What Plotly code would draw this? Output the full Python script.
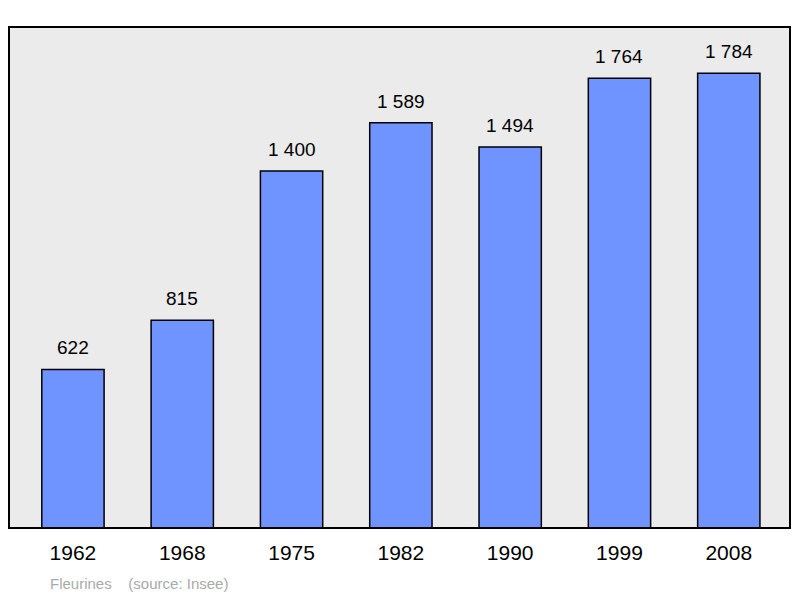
import plotly.graph_objects as go

years = ["1962", "1968", "1975", "1982", "1990", "1999", "2008"]
population = [622, 815, 1400, 1589, 1494, 1764, 1784]
labels = ["622", "815", "1 400", "1 589", "1 494", "1 764", "1 784"]

xs = list(range(len(years)))
fig = go.Figure(go.Bar(
    x=xs, y=population, width=0.57,
    marker=dict(color="#7094ff", line=dict(color="black", width=1.5)),
))
anns = [dict(x=x, y=v, text=t, showarrow=False, yanchor="bottom", yshift=9,
             font=dict(size=19, color="black", family="Liberation Sans"))
        for x, v, t in zip(xs, population, labels)]
anns.append(dict(text="Fleurines    (source: Insee)", xref="paper", yref="paper",
                 x=0.05, y=-0.11, xanchor="left", yanchor="middle", showarrow=False,
                 font=dict(size=15, color="#aaaaaa", family="Liberation Sans")))
fig.update_layout(
    width=792, height=590,
    margin=dict(l=1, r=10, t=19, b=70),
    paper_bgcolor="white", plot_bgcolor="#ebebeb",
    showlegend=False,
    xaxis=dict(range=[-0.585, 6.56], tickvals=xs, ticktext=years,
               showgrid=False, zeroline=False, ticks="", ticklabelstandoff=10,
               tickfont=dict(size=21, color="black", family="Liberation Sans")),
    yaxis=dict(range=[0, 1965], visible=False, showgrid=False),
    shapes=[dict(type="rect", xref="paper", yref="paper", x0=0, x1=1, y0=0, y1=1,
                 line=dict(color="black", width=2))],
    annotations=anns,
)
fig.write_html("out.html")
